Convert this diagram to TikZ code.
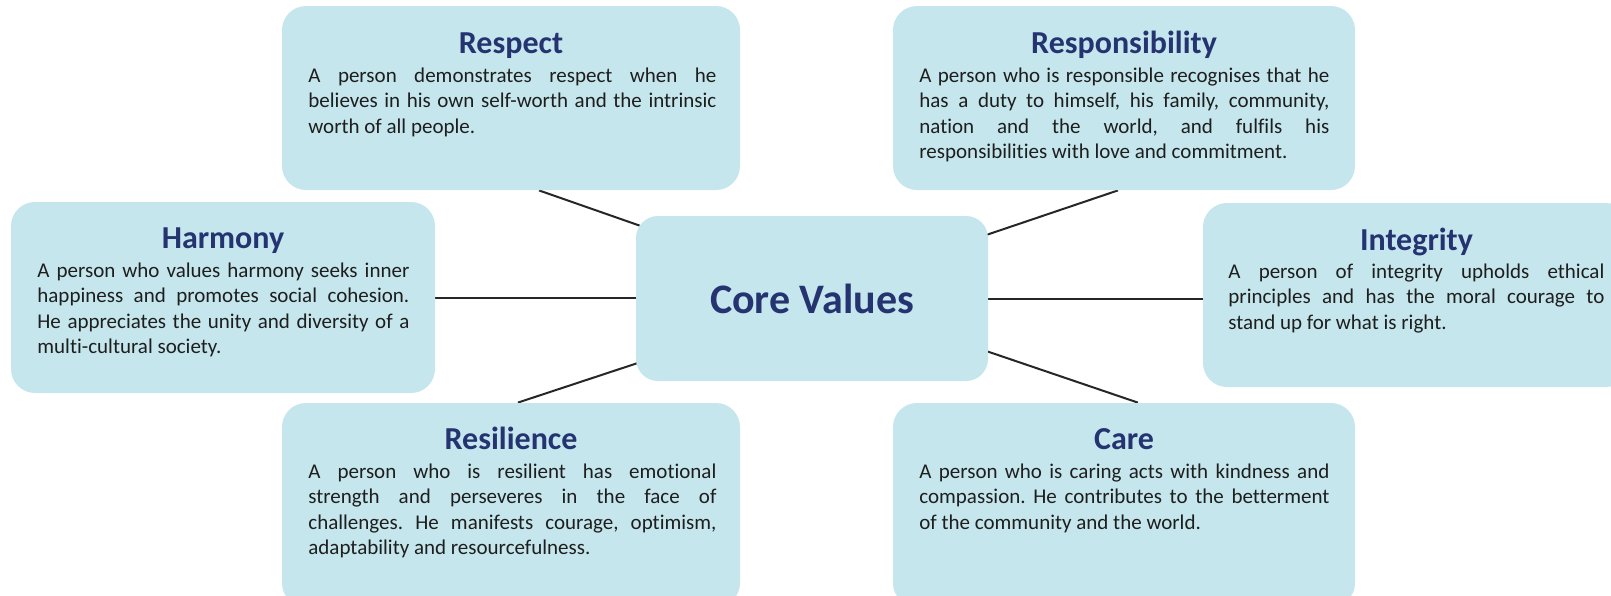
\documentclass[tikz,border=0pt]{standalone}
\usepackage{fontspec}
\setmainfont[Ligatures=NoCommon]{Carlito}
\usetikzlibrary{calc,backgrounds}
\frenchspacing

\definecolor{valuefill}{HTML}{C4E6EC}
\definecolor{valuetitle}{HTML}{253471}
\definecolor{valuetext}{HTML}{1E1E1E}

\begin{document}
\begin{tikzpicture}[x=0.5pt,y=-0.5pt]

	% Define basic styles
	\tikzset{
		value/.style={
			rectangle, fill=valuefill, rounded corners=12pt, inner sep=0pt
		},
		heading/.style={
			anchor=base, inner sep=0pt, text=valuetitle,
			font=\fontsize{16}{19}\selectfont\bfseries
		},
		blurb/.style={
			anchor=base west, inner sep=0pt, text=valuetext, align=justify,
			font=\fontsize{10.5}{12.75}\selectfont
		},
		link/.style={
			line width=1pt, draw=black!85
		}
	}

	\useasboundingbox (0,0) rectangle (1611,595);
	\clip (0,0) rectangle (1611,595);

	% Boxes
	\node[value, minimum width=229pt, minimum height=92pt] (respect) at (511,98) {};
	\node[value, minimum width=231pt, minimum height=92pt] (responsibility) at (1124,98) {};
	\node[value, minimum width=212pt, minimum height=95.5pt] (harmony) at (223,297.5) {};
	\node[value, minimum width=213.5pt, minimum height=92pt] (integrity) at (1416.5,295) {};
	\node[value, minimum width=229pt, minimum height=102pt] (resilience) at (511,505) {};
	\node[value, minimum width=231pt, minimum height=102pt] (care) at (1124,505) {};
	\node[value, minimum width=176pt, minimum height=82.5pt, rounded corners=11pt,
		text=valuetitle, font=\fontsize{21}{25}\selectfont\bfseries] (core) at (812,298.5) {Core Values};

	% Titles and texts
	\node[heading] (respect-title) at (511,53) {Respect};
	\node[blurb, text width=204pt] (respect-text) at (308,82) {A person demonstrates respect when he\linebreak believes in his own self-worth and the intrinsic\linebreak worth of all people.};

	\node[heading] (responsibility-title) at (1124,53) {Responsibility};
	\node[blurb, text width=205pt] (responsibility-text) at (919,82) {A person who is responsible recognises that he\linebreak has a duty to himself, his family, community,\linebreak nation and the world, and fulfils his\linebreak responsibilities with love and commitment.};

	\node[heading] (harmony-title) at (223,248) {Harmony};
	\node[blurb, text width=186pt] (harmony-text) at (37,277) {A person who values harmony seeks inner\linebreak happiness and promotes social cohesion.\linebreak He appreciates the unity and diversity of a\linebreak multi-cultural society.};

	\node[heading] (integrity-title) at (1416.5,250) {Integrity};
	\node[blurb, text width=188pt] (integrity-text) at (1228,278) {A person of integrity upholds ethical\linebreak principles and has the moral courage to\linebreak stand up for what is right.};

	\node[heading] (resilience-title) at (511,449) {Resilience};
	\node[blurb, text width=204pt] (resilience-text) at (308,478) {A person who is resilient has emotional\linebreak strength and perseveres in the face of\linebreak challenges. He manifests courage, optimism,\linebreak adaptability and resourcefulness.};

	\node[heading] (care-title) at (1124,449) {Care};
	\node[blurb, text width=205pt] (care-text) at (919,478) {A person who is caring acts with kindness and\linebreak compassion. He contributes to the betterment\linebreak of the community and the world.};

	% Links
	\begin{scope}[on background layer]
		\draw[link] ($(respect.south west)!0.561!(respect.south east)$) -- ([xshift=2pt,yshift=-5pt]core.north west);
		\draw[link] ($(responsibility.south west)!0.487!(responsibility.south east)$) -- ([xshift=-2pt,yshift=-10pt]core.north east);
		\draw[link] (harmony.east) -- (harmony.east -| core.west);
		\draw[link] (core.east) -- (core.east -| integrity.west);
		\draw[link] ($(resilience.north west)!0.515!(resilience.north east)$) -- ([xshift=2pt,yshift=9.5pt]core.south west);
		\draw[link] ([xshift=-2pt,yshift=15.5pt]core.south east) -- ($(care.north west)!0.53!(care.north east)$);
	\end{scope}

\end{tikzpicture}
\end{document}
